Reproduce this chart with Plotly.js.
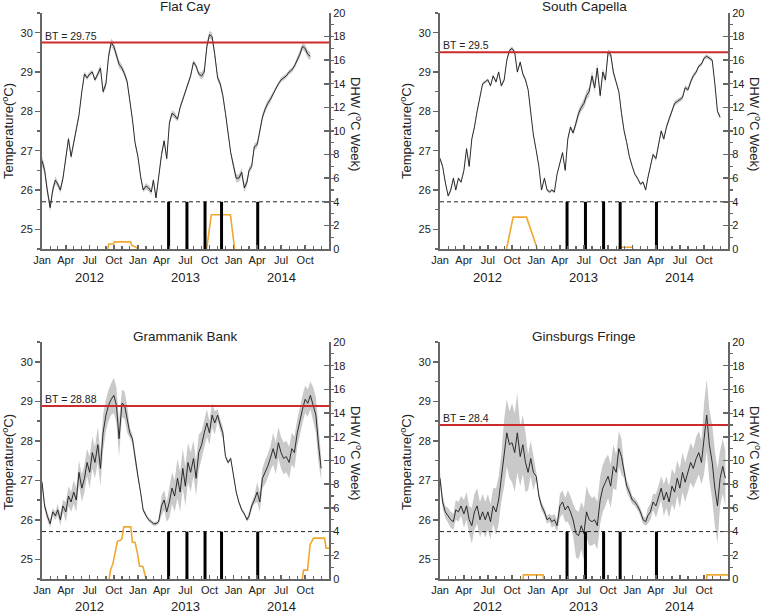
<!DOCTYPE html>
<html><head><meta charset="utf-8">
<script src="https://cdn.plot.ly/plotly-3.0.1.min.js"></script>
<style>html,body{margin:0;padding:0;background:#fff}#chart{width:762px;height:612px}</style>
</head><body><div id="chart"></div>
<script>
// ---- x grid (1st, 11th, 21st of every month) ----
const years = [2012, 2013, 2014];
const dayMarks = ['01', '11', '21'];
const gridDates = [];
years.forEach(y => { for (let m = 1; m <= 12; m++) { dayMarks.forEach(d => gridDates.push(y + '-' + String(m).padStart(2, '0') + '-' + d)); } });

const siteNames = ['Flat Cay', 'South Capella', 'Grammanik Bank', 'Ginsburgs Fringe'];
const btValues = [29.75, 29.5, 28.88, 28.4];
const btLabels = ['BT = 29.75', 'BT = 29.5', 'BT = 28.88', 'BT = 28.4'];
const yearLabels = ['2012', '2013', '2014'];
const yearLabelDates = ['2012-07-01', '2013-07-01', '2014-07-01'];
const samplingDates = ['2013-04-28', '2013-07-07', '2013-09-14', '2013-11-16', '2014-04-03'];
const dhwThreshold = 4;

// ---- mean temperature (°C) on gridDates ----
const flatTemp = [
 26.75,26.5,26.0, 25.55,26.0,26.25, 26.15,26.0,26.3, 26.9,27.3,26.85, 27.2,27.6,27.9, 28.5,28.95,28.85,
 28.95,29.0,28.8, 28.95,29.1,28.5, 28.7,29.4,29.75, 29.65,29.45,29.2, 29.1,28.95,28.75, 28.3,27.8,27.2,
 26.85,26.35,26.0, 26.1,26.05,25.95, 26.25,25.8,26.4, 26.9,27.25,26.8, 27.7,27.95,27.9, 27.8,28.1,28.3,
 28.5,28.65,28.9, 29.25,29.15,28.95, 28.9,29.0,29.65, 29.95,29.9,29.45, 28.85,28.7,28.4, 27.95,27.4,26.95,
 26.6,26.3,26.3, 26.45,26.05,26.2, 26.5,26.6,27.1, 27.15,27.5,27.85, 28.05,28.2,28.3, 28.45,28.6,28.7,
 28.8,28.85,28.9, 29.0,29.05,29.15, 29.3,29.45,29.65, 29.6,29.45,29.4, null,null,null, null,null,null];
const capTemp = [
 26.8,26.6,26.2, 25.85,26.0,26.3, 26.0,26.3,26.2, 26.5,27.05,26.6, 27.3,27.6,28.0, 28.4,28.7,28.75,
 28.8,28.65,28.9, 28.75,29.0,28.65, 28.8,29.3,29.55, 29.6,29.5,29.0, 29.25,28.95,28.8, 28.55,28.0,27.4,
 27.0,26.6,26.0, 26.3,26.0,25.95, 26.0,25.95,26.4, 26.7,26.95,26.5, 27.3,27.6,27.45, 27.7,27.95,28.1,
 28.2,28.4,28.5, 28.9,28.6,29.1, 28.4,29.0,28.8, 29.5,29.45,29.0, 28.7,28.5,27.95, 27.5,27.2,26.85,
 26.6,26.4,26.3, 26.15,26.2,26.0, 26.3,26.6,26.9, 26.8,27.2,27.5, 27.3,27.6,27.8, 28.0,28.2,28.25,
 28.3,28.35,28.6, 28.55,28.75,28.9, 29.0,29.15,29.2, 29.35,29.4,29.35, 29.3,28.7,28.0, 27.85,null,null];
const gramTemp = [
 26.95,26.35,26.1, 25.9,26.2,26.1, 26.25,26.0,26.35, 26.2,26.6,26.45, 26.7,26.5,27.2, 26.8,27.05,27.45,
 27.2,27.7,27.45, 27.9,27.3,28.2, 28.65,28.9,29.05, 29.15,28.9,28.05, 28.95,28.9,28.55, 28.2,28.05,27.55,
 27.1,26.7,26.25, 26.1,26.0,25.95, 25.9,25.9,25.95, 26.35,26.5,26.2, 26.45,26.8,26.6, 27.05,26.7,27.3,
 26.85,27.45,27.2, 27.55,27.05,27.7, 27.9,28.2,28.45, 28.2,28.65,28.45, 28.65,28.4,28.2, 27.6,27.45,27.55,
 27.1,26.7,26.45, 26.25,26.15,26.0, 26.1,26.35,26.5, 26.7,26.45,27.05, 27.2,27.35,27.55, 27.8,27.55,27.95,
 27.7,27.55,27.6, 27.45,27.8,27.7, 28.2,28.55,28.8, 29.05,28.95,29.15, 28.9,28.65,27.9, 27.3,null,null];
const ginsTemp = [
 27.05,26.45,26.2, 26.1,26.0,25.95, 26.25,26.2,26.35, 26.15,26.35,26.0, 25.85,26.2,26.35, 26.0,26.2,26.0,
 26.2,25.95,26.35, 26.2,26.5,27.05, 27.7,28.2,27.9, 27.95,27.7,28.2, 27.6,27.9,27.45, 27.2,27.55,27.2,
 27.1,26.6,26.35, 26.2,26.0,26.05, 25.95,26.0,25.85, 26.35,26.45,26.25, 26.35,26.2,26.0, 25.65,25.6,25.85,
 25.65,26.2,26.0, 25.95,26.0,25.85, 26.5,26.8,26.95, 27.1,26.85,27.35, 27.2,27.8,27.6, 27.2,26.85,26.7,
 26.5,26.45,26.35, 26.2,26.0,25.95, 26.1,26.2,26.45, 26.35,26.6,26.8, 26.5,26.7,26.45, 26.85,26.7,27.05,
 26.8,27.2,26.95, 27.2,27.45,27.3, 27.55,27.7,27.45, 28.05,28.65,27.9, 27.45,26.8,26.35, 27.05,27.35,27.05];

// ---- half-width of the grey range band, per month ----
const flatSpread = [0.12,0.1,0.08,0.08,0.07,0.06,0.06,0.08,0.1,0.1,0.08,0.06, 0.06,0.08,0.07,0.08,0.08,0.06,0.06,0.06,0.1,0.1,0.08,0.06, 0.1,0.1,0.08,0.08,0.08,0.06,0.06,0.06,0.08,0.1,0.08,0.08];
const capSpread = [0.05,0.05,0.04,0.05,0.05,0.04,0.04,0.05,0.05,0.05,0.05,0.04, 0.04,0.04,0.04,0.05,0.06,0.1,0.12,0.12,0.1,0.08,0.05,0.05, 0.04,0.04,0.05,0.06,0.06,0.06,0.06,0.06,0.05,0.05,0.05,0.05];
const gramSpread = [0.1,0.1,0.15,0.25,0.3,0.35,0.4,0.45,0.4,0.45,0.35,0.12, 0.05,0.05,0.05,0.25,0.4,0.5,0.5,0.45,0.35,0.3,0.15,0.05, 0.05,0.05,0.1,0.25,0.3,0.4,0.4,0.4,0.35,0.35,0.45,0.3];
const ginsSpread = [0.15,0.2,0.25,0.35,0.45,0.45,0.45,0.6,0.85,1.0,0.75,0.45, 0.1,0.1,0.15,0.3,0.4,0.6,0.65,0.6,0.6,0.55,0.45,0.15, 0.1,0.1,0.2,0.3,0.4,0.45,0.5,0.5,0.55,0.9,0.95,0.7];

// ---- Degree Heating Weeks (°C week); null separates events ----
const flatDhwDates = ['2012-09-08','2012-09-12','2012-09-30','2012-10-04','2012-12-04','2012-12-08','2012-12-22','2013-01-01',null,'2013-09-20','2013-10-08','2013-12-20','2014-01-05'];
const flatDhw = [0,0.42,0.42,0.6,0.6,0.3,0.2,0,null,0,2.9,2.9,0];
const capDhwDates = ['2012-09-10','2012-10-05','2012-11-25','2013-01-05',null,'2013-11-12','2013-11-13','2014-01-02','2014-01-03'];
const capDhw = [0,2.7,2.7,0,null,0,0.15,0.15,0];
const gramDhwDates = ['2012-09-13','2012-09-19','2012-09-27','2012-10-06','2012-10-15','2012-10-25','2012-11-01','2012-11-08','2012-12-05','2012-12-11','2012-12-21','2012-12-30','2013-01-07','2013-01-20','2013-02-01',null,
 '2014-09-20','2014-09-25','2014-10-10','2014-10-20','2014-11-02','2014-12-14','2014-12-20','2014-12-31'];
const gramDhw = [0,0.8,1.25,2.1,3.2,3.25,3.4,4.4,4.4,3.1,3.1,2.2,1.1,1.05,0,null, 0,0.75,0.75,2.9,3.45,3.45,2.6,2.6];
const ginsDhwDates = ['2012-11-12','2012-11-13','2013-01-27','2013-01-28',null,'2014-10-11','2014-10-12','2014-12-31'];
const ginsDhw = [0,0.35,0.35,0,null,0,0.35,0.35];

const temps = [flatTemp, capTemp, gramTemp, ginsTemp];
const spreads = [flatSpread, capSpread, gramSpread, ginsSpread];
const dhwDates = [flatDhwDates, capDhwDates, gramDhwDates, ginsDhwDates];
const dhwVals = [flatDhw, capDhw, gramDhw, ginsDhw];

// ---- layout geometry (pixels in 762x612) ----
const W = 762, H = 612;
const colX = [[42, 329], [440, 728]];
const rowY = [[13, 249], [342, 579]];
const FONT = 'Liberation Sans, Arial, sans-serif';
const axisCol = '#666';
const xEnd = '2014-12-31';

const data = [];
const layout = {
  width: W, height: H, margin: {l: 0, r: 0, t: 0, b: 0},
  paper_bgcolor: '#fff', plot_bgcolor: 'rgba(0,0,0,0)',
  showlegend: false, font: {family: FONT, size: 11, color: '#222'},
  annotations: []
};

for (let i = 0; i < 4; i++) {
  const col = i % 2, row = Math.floor(i / 2);
  const xn = i === 0 ? '' : String(i + 1);
  const ytn = 2 * i + 1 === 1 ? '' : String(2 * i + 1);
  const ydn = String(2 * i + 2);
  const xa = 'x' + xn, yt = 'y' + ytn, yd = 'y' + ydn;
  const xd = [colX[col][0] / W, colX[col][1] / W];
  const yDom = [1 - rowY[row][1] / H, 1 - rowY[row][0] / H];

  layout['xaxis' + xn] = {
    domain: xd, anchor: yt, type: 'date', range: ['2012-01-01', xEnd],
    tickformat: '%b', dtick: 'M3', tick0: '2012-01-01', ticks: 'inside', ticklen: 4, tickwidth: 1.5, tickcolor: axisCol,
    showline: true, linecolor: axisCol, linewidth: 2, showgrid: false, zeroline: false,
    tickfont: {size: 11, color: '#222'},
    minor: {dtick: 'M1', ticks: 'inside', ticklen: 3, tickwidth: 1.2, tickcolor: axisCol, showgrid: false}
  };
  layout['yaxis' + ytn] = {
    domain: yDom, anchor: xa, range: [24.5, 30.5], dtick: 1, tick0: 25,
    ticks: 'outside', ticklen: 5, tickwidth: 1.5, tickcolor: axisCol,
    showline: true, linecolor: axisCol, linewidth: 2, showgrid: false, zeroline: false,
    tickfont: {size: 11, color: '#222'},
    minor: {dtick: 0.5, ticks: 'outside', ticklen: 3, tickwidth: 1.2, tickcolor: axisCol, showgrid: false}
  };
  layout['yaxis' + ydn] = {
    overlaying: yt, anchor: xa, side: 'right', range: [0, 20], dtick: 2, tick0: 0,
    ticks: 'inside', ticklen: 5, tickwidth: 1.5, tickcolor: axisCol,
    showline: true, linecolor: axisCol, linewidth: 2, showgrid: false, zeroline: false,
    tickfont: {size: 11, color: '#222'},
    minor: {dtick: 1, ticks: 'outside', ticklen: 3, tickwidth: 1.2, tickcolor: axisCol, showgrid: false}
  };

  // band + mean line
  const xs = [], lo = [], hi = [], mid = [];
  temps[i].forEach((t, k) => {
    if (t === null) return;
    const s = spreads[i][Math.floor(k / 3)];
    xs.push(gridDates[k]); mid.push(t); lo.push(t - s); hi.push(t + s);
  });
  data.push({x: xs, y: lo, xaxis: xa, yaxis: yt, mode: 'lines', line: {width: 0, color: 'rgba(0,0,0,0)'}, hoverinfo: 'skip'});
  data.push({x: xs, y: hi, xaxis: xa, yaxis: yt, mode: 'lines', fill: 'tonexty', fillcolor: '#c9c9c9', line: {width: 0, color: 'rgba(0,0,0,0)'}, hoverinfo: 'skip'});
  data.push({x: xs, y: mid, xaxis: xa, yaxis: yt, mode: 'lines', line: {width: 0.9, color: '#1a1a1a'}});
  // bleaching threshold
  data.push({x: ['2012-01-01', xEnd], y: [btValues[i], btValues[i]], xaxis: xa, yaxis: yt, mode: 'lines', line: {width: 2, color: '#cc2b2b'}});
  // DHW = 4 dashed line
  data.push({x: ['2012-01-01', xEnd], y: [dhwThreshold, dhwThreshold], xaxis: xa, yaxis: yd, mode: 'lines', line: {width: 1, color: '#222', dash: '4px,3px'}});
  // DHW
  data.push({x: dhwDates[i], y: dhwVals[i], xaxis: xa, yaxis: yd, mode: 'lines', connectgaps: false, line: {width: 1.6, color: '#f0a830'}});
  // sampling dates bars
  const bx = [], by = [];
  samplingDates.forEach(d => { bx.push(d, d, null); by.push(0, dhwThreshold, null); });
  data.push({x: bx, y: by, xaxis: xa, yaxis: yd, mode: 'lines', line: {width: 3, color: '#000'}});

  // annotations
  const cx = (colX[col][0] + colX[col][1]) / 2 / W;
  const titleY = row === 0 ? 7 : 336;
  layout.annotations.push({text: siteNames[i], xref: 'paper', yref: 'paper', x: cx, y: 1 - titleY / H, xanchor: 'center', yanchor: 'middle', showarrow: false, font: {size: 13.5, color: '#222'}});
  const tX = col === 0 ? 8 : 406, tY = row === 0 ? 131 : 462;
  layout.annotations.push({text: 'Temperature(<sup>o</sup>C)', xref: 'paper', yref: 'paper', x: tX / W, y: 1 - tY / H, xanchor: 'center', yanchor: 'middle', textangle: -90, showarrow: false, font: {size: 13, color: '#222'}});
  const dX = col === 0 ? 356 : 755, dY = row === 0 ? 124 : 453;
  layout.annotations.push({text: 'DHW (<sup>o</sup>C Week)', xref: 'paper', yref: 'paper', x: dX / W, y: 1 - dY / H, xanchor: 'center', yanchor: 'middle', textangle: 90, showarrow: false, font: {size: 13, color: '#222'}});
  layout.annotations.push({text: btLabels[i], xref: xa, yref: yt, x: '2012-01-05', y: btValues[i], xanchor: 'left', yanchor: 'bottom', yshift: -1, showarrow: false, font: {size: 10.5, color: '#222'}});
  const yrY = row === 0 ? 278 : 606;
  yearLabels.forEach((yl, j) => {
    layout.annotations.push({text: yl, xref: xa, yref: 'paper', x: yearLabelDates[j], y: 1 - yrY / H, xanchor: 'center', yanchor: 'middle', showarrow: false, font: {size: 13, color: '#222'}});
  });
}

Plotly.newPlot('chart', data, layout, {staticPlot: true, displayModeBar: false});
</script></body></html>
